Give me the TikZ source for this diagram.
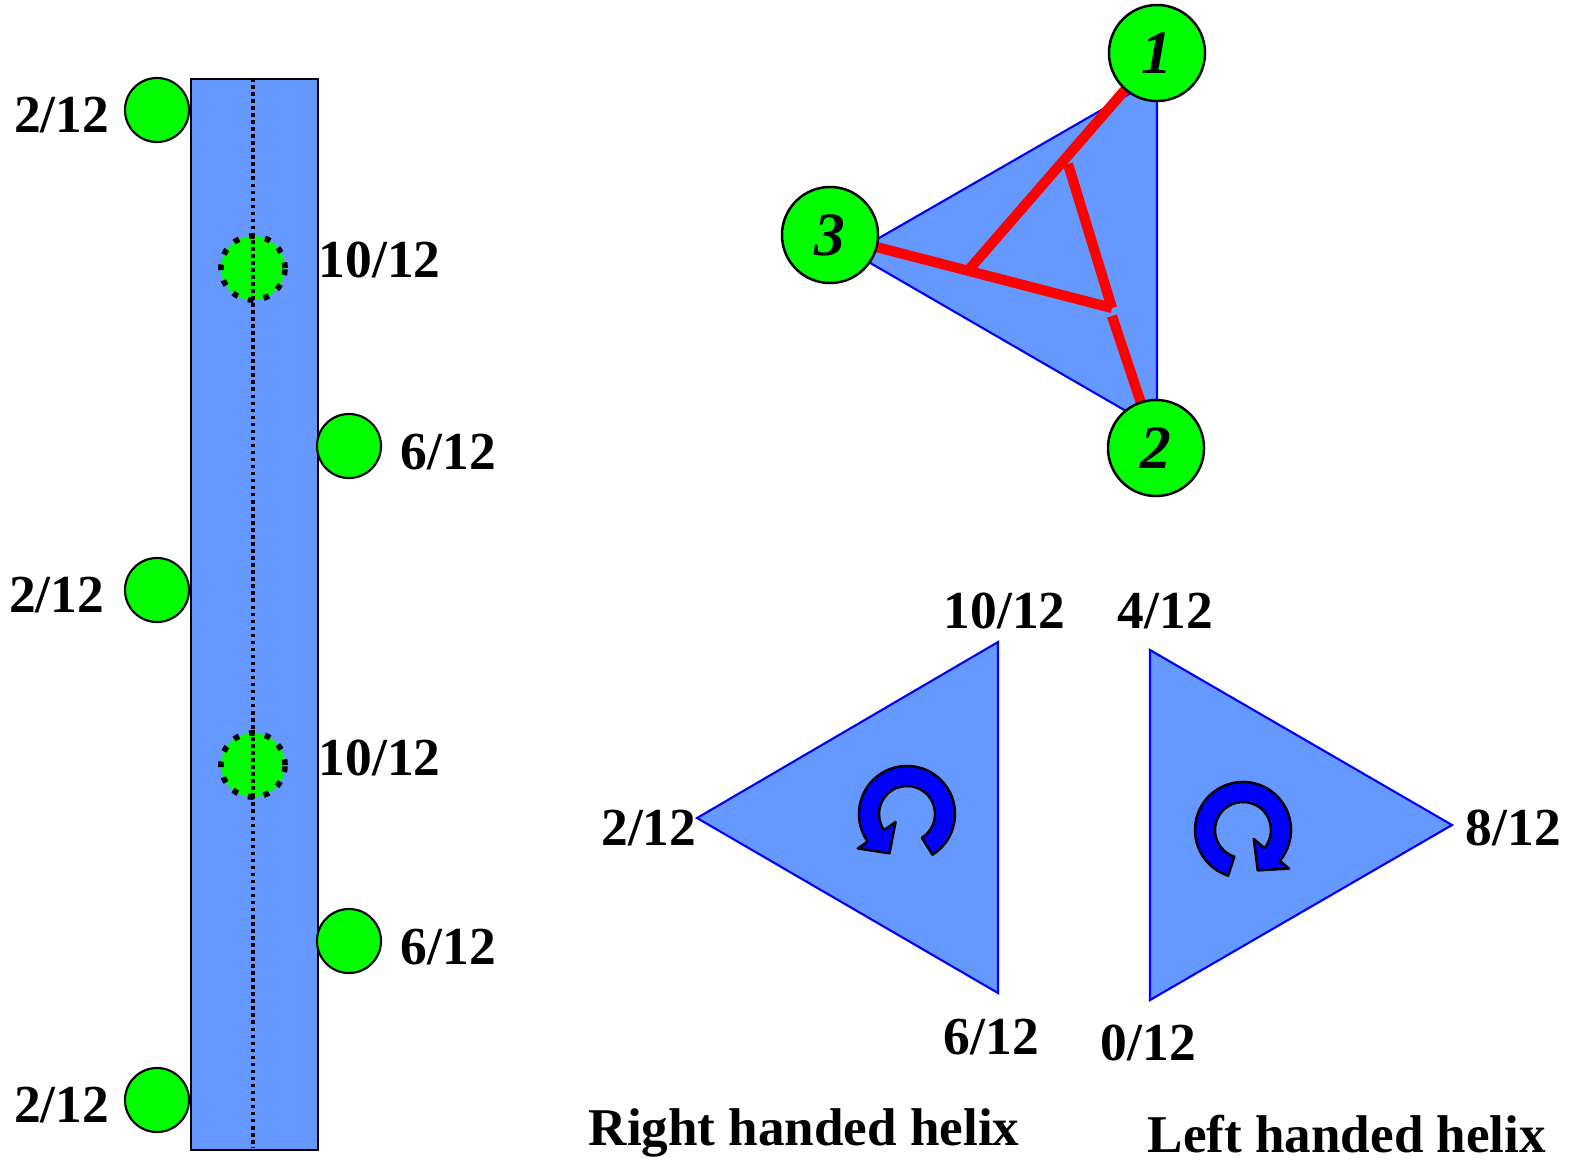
\documentclass[tikz,border=0pt]{standalone}
\usepackage{fontspec}
\setmainfont{Liberation Serif}
\definecolor{bgblue}{HTML}{6699FF}
\definecolor{pureblue}{HTML}{0000FF}
\definecolor{ballgreen}{HTML}{00FF00}
\definecolor{redline}{HTML}{FF0000}
\begin{document}
\begin{tikzpicture}[x=0.01cm,y=-0.01cm,
  lbl/.style={font=\fontsize{15.2}{17}\selectfont\bfseries, inner sep=0},
  ttl/.style={font=\fontsize{15.1}{17}\selectfont\bfseries, inner sep=0},
  ball/.style={circle, fill=ballgreen, draw=black, line width=0.6pt, minimum size=0.64cm, inner sep=0},
  hidball/.style={circle, fill=ballgreen, draw=black, line width=1.6pt, dash pattern=on 1.6pt off 3.0pt, minimum size=0.64cm, inner sep=0},
  axisline/.style={black, line width=1pt, dash pattern=on 1pt off 1pt},
  bigball/.style={circle, fill=ballgreen, draw=black, line width=0.7pt, minimum size=0.96cm, inner sep=0, font=\fontsize{17.5}{19}\selectfont\bfseries\itshape},
  tri/.style={fill=bgblue, draw=pureblue, line width=0.6pt},
  redseg/.style={draw=redline, line width=2.9pt},
  rot/.style={fill=pureblue, draw=black, line width=0.7pt, line join=round}
]
\useasboundingbox (0,0) rectangle (1570,1160);

% ---------- left column ----------
\node[draw=black, fill=bgblue, line width=0.6pt, minimum width=1.27cm, minimum height=10.7cm, inner sep=0, anchor=north west] (col) at (190,78) {};
\coordinate (axtop) at (253,78);
\coordinate (axbot) at (253,1148);
\draw[axisline] (axtop) -- (axbot);

\node[ball] (l1) at (157,110) {};
\node[ball] (l2) at (157,590) {};
\node[ball] (l3) at (157,1100) {};
\node[ball] (r1) at (349,446) {};
\node[ball] (r2) at (349,941) {};
\node[hidball] (h1) at (253,268) {};
\node[hidball] (h2) at (253,765) {};
\draw[axisline] (h1.north) -- (h1.south);
\draw[axisline] (h2.north) -- (h2.south);

\node[lbl, anchor=base east] (tl1) at (110,132) {2/12};
\node[lbl, anchor=base east] (tl2) at (105,612) {2/12};
\node[lbl, anchor=base east] (tl3) at (110,1122) {2/12};
\node[lbl, anchor=base west] (th1) at (318,277) {10/12};
\node[lbl, anchor=base west] (th2) at (318,775) {10/12};
\node[lbl, anchor=base west] (tr1) at (400,469) {6/12};
\node[lbl, anchor=base west] (tr2) at (400,964) {6/12};

% ---------- top triangle ----------
\coordinate (t1) at (1157,78);
\coordinate (t2) at (1157,429);
\coordinate (t3) at (853,253);
\fill[tri] (t1) -- (t2) -- (t3) -- cycle;
\node[bigball, draw=none, fill=none] (n1) at (1157,53) {};
\node[bigball, draw=none, fill=none] (n2) at (1156,448) {};
\node[bigball, draw=none, fill=none] (n3) at (830,235) {};
\coordinate (A) at (966,273);
\coordinate (B) at (1112,308);
\coordinate (C) at (1068,164);
\coordinate (D) at (1112,316);
\draw[redseg] (n1.center) -- (A);
\draw[redseg] (n3.center) -- (B);
\draw[redseg] (C) -- (B);
\draw[redseg] (D) -- (n2.center);
\node[bigball] at (n1) {1};
\node[bigball] at (n2) {2};
\node[bigball] at (n3) {3};

% ---------- right handed ----------
\coordinate (ra) at (998,642);
\coordinate (rb) at (697,818);
\coordinate (rc) at (998,993);
\filldraw[tri] (ra) -- (rb) -- (rc) -- cycle;
\begin{scope}[shift={(907,814)}, x=0.01cm, y=0.01cm]
  \filldraw[rot] (-58:48) arc[start angle=-58, end angle=215, radius=0.48cm]
    -- (215:60) -- (246:43) -- (215:14) -- (215:28)
    arc[start angle=215, end angle=-58, radius=0.28cm] -- cycle;
\end{scope}
\node[lbl, anchor=base west] (ra1) at (943,628) {10/12};
\node[lbl, anchor=base east] (rb1) at (697,845) {2/12};
\node[lbl, anchor=base west] (rc1) at (943,1054) {6/12};
\node[ttl, anchor=base west] (rt) at (588,1145) {Right handed helix};

% ---------- left handed ----------
\coordinate (la) at (1150,650);
\coordinate (lb) at (1452,825);
\coordinate (lc) at (1150,1000);
\filldraw[tri] (la) -- (lb) -- (lc) -- cycle;
\begin{scope}[shift={(1243,830)}, x=0.01cm, y=0.01cm]
  \filldraw[rot] (252:48) arc[start angle=252, end angle=-40, radius=0.48cm]
    -- (-40:60) -- (-70:43) -- (-40:14) -- (-40:28)
    arc[start angle=-40, end angle=252, radius=0.28cm] -- cycle;
\end{scope}
\node[lbl, anchor=base west] (la1) at (1117,628) {4/12};
\node[lbl, anchor=base west] (lb1) at (1465,845) {8/12};
\node[lbl, anchor=base west] (lc1) at (1100,1060) {0/12};
\node[ttl, anchor=base west] (lt) at (1147,1152) {Left handed helix};
\end{tikzpicture}
\end{document}
